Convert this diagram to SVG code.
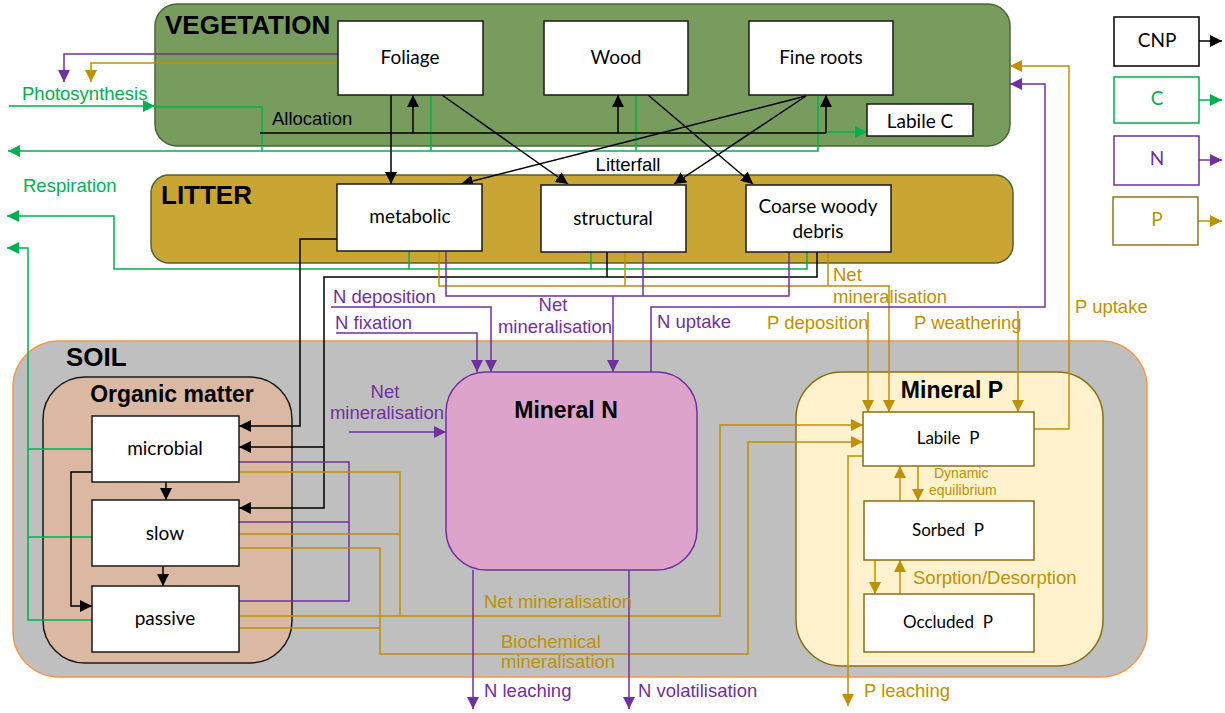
<svg xmlns="http://www.w3.org/2000/svg" width="1225" height="713" viewBox="0 0 1225 713">
  <style>
    .pool { fill: #ffffff; stroke: #1a1a1a; stroke-width: 1.5; }
    .ppool { fill: #ffffff; stroke: #8a6d12; stroke-width: 1.5; }
    .nt { font-family: Lato, "Liberation Sans", sans-serif; font-size: 19px; fill: #000; text-anchor: middle; }
    .pt { font-family: Lato, "Liberation Sans", sans-serif; font-size: 17px; fill: #000; text-anchor: middle; }
    .title { font-family: "Liberation Sans", Arial, sans-serif; font-weight: bold; fill: #000; }
    .lbl { font-family: "Liberation Sans", Arial, sans-serif; font-size: 18.5px; }
    .small { font-family: "Liberation Sans", Arial, sans-serif; font-size: 14px; fill: #bf9000; }
    .k { fill: none; stroke: #000; stroke-width: 1.5; }
    .g { fill: none; stroke: #00b050; stroke-width: 1.5; }
    .n { fill: none; stroke: #7030a0; stroke-width: 1.5; }
    .p { fill: none; stroke: #bf9000; stroke-width: 1.5; }
    .tg { fill: #00b050; }
    .tn { fill: #7030a0; }
    .tp { fill: #bf9000; }
    .tk { fill: #000; }
  </style>
  <defs>
    <marker id="ak" markerWidth="12" markerHeight="12" refX="12" refY="6" orient="auto" markerUnits="userSpaceOnUse"><path d="M0,0 L12,6 L0,12 z" fill="#000"/></marker>
    <marker id="ag" markerWidth="12" markerHeight="12" refX="12" refY="6" orient="auto" markerUnits="userSpaceOnUse"><path d="M0,0 L12,6 L0,12 z" fill="#00b050"/></marker>
    <marker id="an" markerWidth="12" markerHeight="12" refX="12" refY="6" orient="auto" markerUnits="userSpaceOnUse"><path d="M0,0 L12,6 L0,12 z" fill="#7030a0"/></marker>
    <marker id="ap" markerWidth="12" markerHeight="12" refX="12" refY="6" orient="auto" markerUnits="userSpaceOnUse"><path d="M0,0 L12,6 L0,12 z" fill="#bf9000"/></marker>
  </defs>

  <!-- compartments -->
  <g id="vegetation">
    <rect x="155" y="4" width="855" height="142" rx="22" fill="#789c5e" stroke="#4a6634" stroke-width="1.5"/>
    <text class="title" x="165" y="34" font-size="26">VEGETATION</text>
  </g>
  <g id="litter">
    <rect x="151" y="175" width="862" height="88" rx="18" fill="#c9a634" stroke="#4a6634" stroke-width="1.5"/>
    <text class="title" x="161" y="204" font-size="26">LITTER</text>
  </g>
  <g id="soil">
    <rect x="13" y="341" width="1134" height="336" rx="46" fill="#bfbfbf" stroke="#f79646" stroke-width="1.5"/>
    <text class="title" x="66" y="366" font-size="26">SOIL</text>
  </g>
  <g id="organic-matter">
    <rect x="43" y="377" width="249" height="286" rx="42" fill="#dab8a1" stroke="#1a1a1a" stroke-width="1.5"/>
    <text class="title" x="172" y="402" font-size="23" text-anchor="middle">Organic matter</text>
  </g>
  <g id="mineral-n">
    <rect x="446" y="372" width="251" height="198" rx="40" fill="#dda3ca" stroke="#7030a0" stroke-width="1.5"/>
    <text class="title" x="566" y="418" font-size="23" text-anchor="middle">Mineral N</text>
  </g>
  <g id="mineral-p">
    <rect x="796" y="372" width="307" height="294" rx="46" fill="#fff2cc" stroke="#8a6d12" stroke-width="1.5"/>
    <text class="title" x="952" y="398" font-size="23" text-anchor="middle">Mineral P</text>
  </g>

  <!-- flows -->
  <g id="connectors">
    <!-- vegetation N and P losses -->
    <path class="n" d="M338,54 H64 V82" marker-end="url(#an)"/>
    <path class="p" d="M338,63 H91 V82" marker-end="url(#ap)"/>
    <!-- photosynthesis and plant respiration -->
    <path class="g" d="M9,106 H155" marker-end="url(#ag)"/>
    <path class="g" d="M155,107 H262 V151"/>
    <path class="g" d="M818,95 V151 H8" marker-end="url(#ag)"/>
    <path class="g" d="M431,95 V151"/>
    <path class="g" d="M636,95 V151"/>
    <path class="g" d="M828,132 H867" marker-end="url(#ag)"/>
    <!-- allocation -->
    <path class="k" d="M260,133 H826"/>
    <path class="k" d="M413,133 V95" marker-end="url(#ak)"/>
    <path class="k" d="M618,133 V95" marker-end="url(#ak)"/>
    <path class="k" d="M826,133 V95" marker-end="url(#ak)"/>
    <!-- litterfall -->
    <path class="k" d="M391,95 V184" marker-end="url(#ak)"/>
    <path class="k" d="M442,95 L568,184" marker-end="url(#ak)"/>
    <path class="k" d="M648,95 L753,184" marker-end="url(#ak)"/>
    <path class="k" d="M806,96 L461,184" marker-end="url(#ak)"/>
    <path class="k" d="M806,96 L674,184" marker-end="url(#ak)"/>
    <!-- litter respiration -->
    <path class="g" d="M807,252 V269 H114 V216 H7" marker-end="url(#ag)"/>
    <path class="g" d="M409,251 V269"/>
    <path class="g" d="M591,252 V269"/>
    <!-- litter carbon into soil organic matter -->
    <path class="k" d="M337,239 H300 V426 H239" marker-end="url(#ak)"/>
    <path class="k" d="M817,252 V277 H324 V508 H239" marker-end="url(#ak)"/>
    <path class="k" d="M607,252 V277"/>
    <path class="k" d="M324,447 H239" marker-end="url(#ak)"/>
    <!-- litter P mineralisation -->
    <path class="p" d="M439,251 V286 H889 V412" marker-end="url(#ap)"/>
    <path class="p" d="M625,252 V286"/>
    <path class="p" d="M828,252 V286"/>
    <!-- litter N mineralisation -->
    <path class="n" d="M446,251 V296 H789 V252"/>
    <path class="n" d="M643,252 V296"/>
    <path class="n" d="M613,296 V372" marker-end="url(#an)"/>
    <!-- N inputs -->
    <path class="n" d="M331,307 H491 V372" marker-end="url(#an)"/>
    <path class="n" d="M336,333 H477 V372" marker-end="url(#an)"/>
    <!-- uptake -->
    <path class="n" d="M651,372 V307 H1045 V84 H1010" marker-end="url(#an)"/>
    <path class="p" d="M1034,429 H1069 V66 H1010" marker-end="url(#ap)"/>
    <!-- P inputs -->
    <path class="p" d="M868,312 V412" marker-end="url(#ap)"/>
    <path class="p" d="M1018,311 V412" marker-end="url(#ap)"/>
    <!-- soil respiration -->
    <path class="g" d="M92,449 H28"/>
    <path class="g" d="M92,537 H28"/>
    <path class="g" d="M92,620 H28 V248 H7" marker-end="url(#ag)"/>
    <!-- soil organic matter transfers -->
    <path class="k" d="M166,482 V500" marker-end="url(#ak)"/>
    <path class="k" d="M163,566 V586" marker-end="url(#ak)"/>
    <path class="k" d="M92,472 H71 V606 H92" marker-end="url(#ak)"/>
    <!-- soil N mineralisation -->
    <path class="n" d="M239,462 H349 V601 H239"/>
    <path class="n" d="M238,522 H349"/>
    <path class="n" d="M349,432 H446" marker-end="url(#an)"/>
    <!-- soil P net mineralisation -->
    <path class="p" d="M239,472 H400 V616"/>
    <path class="p" d="M238,534 H400"/>
    <path class="p" d="M238,616 H720 V425 H863" marker-end="url(#ap)"/>
    <!-- soil P biochemical mineralisation -->
    <path class="p" d="M238,548 H380 V654 H748 V442 H863" marker-end="url(#ap)"/>
    <path class="p" d="M238,628 H380"/>
    <!-- losses -->
    <path class="n" d="M473,570 V709" marker-end="url(#an)"/>
    <path class="n" d="M629,570 V709" marker-end="url(#an)"/>
    <path class="p" d="M863,456 H848 V706" marker-end="url(#ap)"/>
    <!-- mineral P exchanges -->
    <path class="p" d="M900,501 V466" marker-end="url(#ap)"/>
    <path class="p" d="M918,466 V501" marker-end="url(#ap)"/>
    <path class="p" d="M875,560 V594" marker-end="url(#ap)"/>
    <path class="p" d="M900,594 V560" marker-end="url(#ap)"/>
    <!-- legend arrows -->
    <path class="k" d="M1199,41 H1222" marker-end="url(#ak)"/>
    <path class="g" d="M1199,100 H1222" marker-end="url(#ag)"/>
    <path class="n" d="M1199,160 H1222" marker-end="url(#an)"/>
    <path class="p" d="M1198,221 H1222" marker-end="url(#ap)"/>
  </g>

  <!-- pools -->
  <g id="foliage"><rect class="pool" x="338" y="21" width="145" height="74"/><text class="nt" x="410" y="64">Foliage</text></g>
  <g id="wood"><rect class="pool" x="544" y="21" width="144" height="74"/><text class="nt" x="616" y="64">Wood</text></g>
  <g id="fine-roots"><rect class="pool" x="749" y="21" width="144" height="74"/><text class="nt" x="821" y="64">Fine roots</text></g>
  <g id="labile-c"><rect class="pool" x="867" y="104" width="106" height="32"/><text class="nt" x="920" y="128">Labile C</text></g>
  <g id="metabolic"><rect class="pool" x="337" y="184" width="145" height="67"/><text class="nt" x="410" y="223">metabolic</text></g>
  <g id="structural"><rect class="pool" x="541" y="185" width="145" height="67"/><text class="nt" x="613" y="225">structural</text></g>
  <g id="cwd"><rect class="pool" x="746" y="185" width="145" height="67"/><text class="nt" x="818" y="213">Coarse woody</text><text class="nt" x="818" y="238">debris</text></g>
  <g id="microbial"><rect class="pool" x="92" y="416" width="147" height="66"/><text class="nt" x="165" y="455">microbial</text></g>
  <g id="slow"><rect class="pool" x="92" y="500" width="147" height="66"/><text class="nt" x="165" y="540">slow</text></g>
  <g id="passive"><rect class="pool" x="92" y="586" width="147" height="66"/><text class="nt" x="165" y="625">passive</text></g>
  <g id="labile-p"><rect class="ppool" x="863" y="412" width="171" height="54"/><text class="pt" x="948" y="444" xml:space="preserve">Labile  P</text></g>
  <g id="sorbed-p"><rect class="ppool" x="864" y="501" width="170" height="59"/><text class="pt" x="948" y="536" xml:space="preserve">Sorbed  P</text></g>
  <g id="occluded-p"><rect class="ppool" x="864" y="594" width="170" height="58"/><text class="pt" x="948" y="628" xml:space="preserve">Occluded  P</text></g>

  <!-- legend -->
  <g id="legend-cnp"><rect x="1114" y="17" width="85" height="49" fill="#fff" stroke="#000" stroke-width="1.5"/><text class="nt" x="1157" y="47" font-size="17">CNP</text></g>
  <g id="legend-c"><rect x="1114" y="77" width="85" height="46" fill="#fff" stroke="#00b050" stroke-width="1.5"/><text class="nt tg" x="1157" y="105" font-size="17" style="fill:#00b050">C</text></g>
  <g id="legend-n"><rect x="1114" y="136" width="85" height="49" fill="#fff" stroke="#7030a0" stroke-width="1.5"/><text class="nt" x="1157" y="165" font-size="17" style="fill:#7030a0">N</text></g>
  <g id="legend-p"><rect x="1113" y="197" width="85" height="48" fill="#fff" stroke="#8f7420" stroke-width="1.5"/><text class="nt" x="1157" y="226" font-size="17" style="fill:#bf9000">P</text></g>

  <!-- flow labels -->
  <g id="labels">
    <text class="lbl tg" x="22" y="100">Photosynthesis</text>
    <text class="lbl tg" x="23" y="192">Respiration</text>
    <text class="lbl tk" x="272" y="125">Allocation</text>
    <text class="lbl tk" x="628" y="171" text-anchor="middle">Litterfall</text>
    <text class="lbl tn" x="333" y="303">N deposition</text>
    <text class="lbl tn" x="335" y="329">N fixation</text>
    <text class="lbl tn" x="553" y="311" text-anchor="middle">Net</text>
    <text class="lbl tn" x="555" y="333" text-anchor="middle">mineralisation</text>
    <text class="lbl tn" x="657" y="328">N uptake</text>
    <text class="lbl tp" x="833" y="281">Net</text>
    <text class="lbl tp" x="833" y="303">mineralisation</text>
    <text class="lbl tp" x="767" y="329">P deposition</text>
    <text class="lbl tp" x="914" y="329">P weathering</text>
    <text class="lbl tp" x="1075" y="313">P uptake</text>
    <text class="lbl tn" x="385" y="398" text-anchor="middle">Net</text>
    <text class="lbl tn" x="387" y="419" text-anchor="middle">mineralisation</text>
    <text class="lbl tp" x="484" y="608">Net mineralisation</text>
    <text class="lbl tp" x="501" y="648">Biochemical</text>
    <text class="lbl tp" x="501" y="668">mineralisation</text>
    <text class="lbl tn" x="484" y="697">N leaching</text>
    <text class="lbl tn" x="638" y="697">N volatilisation</text>
    <text class="lbl tp" x="864" y="697">P leaching</text>
    <text class="small" x="934" y="478">Dynamic</text>
    <text class="small" x="929" y="495">equilibrium</text>
    <text class="lbl tp" x="913" y="584">Sorption/Desorption</text>
  </g>
</svg>
